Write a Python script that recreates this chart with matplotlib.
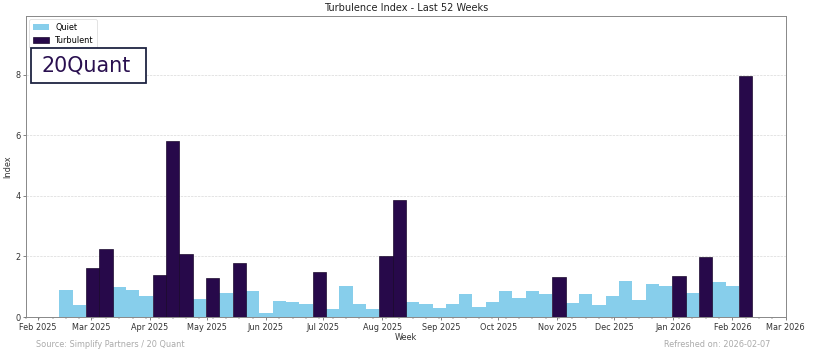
import matplotlib
matplotlib.use("Agg")
import matplotlib.pyplot as plt
import matplotlib.dates as mdates
from matplotlib.patches import Rectangle
import pandas as pd

# ---- data ----
week_end = pd.date_range("2025-02-16", periods=52, freq="W-SUN")
index_values = [0.89, 0.39, 1.62, 2.24, 0.99, 0.88, 0.69, 1.39, 5.80, 2.09,
                0.58, 1.30, 0.78, 1.77, 0.86, 0.12, 0.52, 0.49, 0.44, 1.47,
                0.28, 1.04, 0.42, 0.28, 2.00, 3.87, 0.48, 0.44, 0.31, 0.43,
                0.75, 0.33, 0.49, 0.86, 0.63, 0.86, 0.75, 1.32, 0.45, 0.75,
                0.40, 0.69, 1.19, 0.55, 1.08, 1.02, 1.34, 0.78, 1.97, 1.15,
                1.01, 7.95]
turbulent_weeks = [3, 4, 8, 9, 10, 12, 14, 20, 25, 26, 38, 47, 49, 52]  # 1-based
regime = ["Turbulent" if (i + 1) in turbulent_weeks else "Quiet" for i in range(52)]

title = "Turbulence Index - Last 52 Weeks"
source_text = "Source: Simplify Partners / 20 Quant"
refreshed_text = "Refreshed on: 2026-02-07"

QUIET = "#87CEEB"
TURB = "#27094a"

fig = plt.figure(figsize=(14, 6.15), dpi=815 / 14)
ax = fig.add_axes([0.032, 0.1145, 0.932, 0.8405])

q_dates = [d for d, r in zip(week_end, regime) if r == "Quiet"]
q_vals = [v for v, r in zip(index_values, regime) if r == "Quiet"]
t_dates = [d for d, r in zip(week_end, regime) if r == "Turbulent"]
t_vals = [v for v, r in zip(index_values, regime) if r == "Turbulent"]

ax.bar(q_dates, q_vals, width=7, color=QUIET, edgecolor="none", label="Quiet", zorder=2)
ax.bar(t_dates, t_vals, width=7, color=TURB, edgecolor="#140326", linewidth=0.8,
       label="Turbulent", zorder=2)

ax.set_xlim(week_end[0] - pd.Timedelta(days=21), week_end[-1] + pd.Timedelta(days=21))
ax.set_ylim(0, max(index_values) * 1.25)
ax.set_yticks([0, 2, 4, 6, 8])

ax.xaxis.set_major_locator(mdates.MonthLocator())
ax.xaxis.set_major_formatter(mdates.DateFormatter("%b %Y"))
ax.xaxis.set_minor_locator(mdates.WeekdayLocator(byweekday=mdates.SU))

ax.grid(axis="y", linestyle="--", color="#cccccc", linewidth=0.8, alpha=0.8, zorder=0)
ax.set_axisbelow(True)

for s in ax.spines.values():
    s.set_color("#888888")
    s.set_linewidth(1.2)
ax.tick_params(colors="#444444", which="both")
ax.tick_params(axis="both", labelcolor="#333333")

ax.set_title(title, color="#222222")
ax.set_xlabel("Week", color="#333333", labelpad=2)
ax.set_ylabel("Index", color="#333333")

ax.legend(loc="upper left", fontsize=10, frameon=True, framealpha=1,
          edgecolor="#dddddd", borderaxespad=0.4)

# logo box
fig.patches.append(Rectangle((0.0377, 0.769), 0.1411, 0.0978, transform=fig.transFigure,
                             facecolor="white", edgecolor="#1c2140", linewidth=2.2, zorder=5))
fig.text(0.1052, 0.816, "20Quant", ha="center", va="center", fontsize=25.5,
         family="DejaVu Sans", color="#2a1050", zorder=6)

fig.text(0.044, 0.038, source_text, ha="left", va="center", color="#aaaaaa", fontsize=10)
fig.text(0.9457, 0.038, refreshed_text, ha="right", va="center", color="#aaaaaa", fontsize=10)

fig.savefig("out.png", dpi=815 / 14)
